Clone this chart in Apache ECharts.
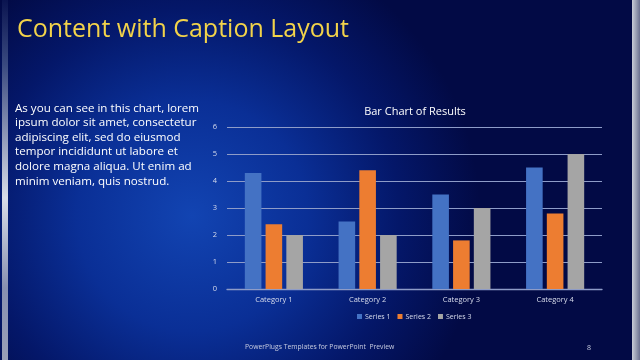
<!DOCTYPE html>
<html><head><meta charset="utf-8">
<script src="https://cdn.jsdelivr.net/npm/echarts@6/dist/echarts.min.js"></script>
<style>html,body{margin:0;padding:0;background:#03104f}#c{width:640px;height:360px}</style>
</head><body><div id="c"></div>
<script>
const categories = ['Category 1', 'Category 2', 'Category 3', 'Category 4'];
const series1 = [4.3, 2.5, 3.5, 4.5];
const series2 = [2.4, 4.4, 1.8, 2.8];
const series3 = [2, 2, 3, 5];
const seriesNames = ['Series 1', 'Series 2', 'Series 3'];
const yTicks = [0, 1, 2, 3, 4, 5, 6];
const captionLines = ['As you can see in this chart, lorem', 'ipsum dolor sit amet, consectetur', 'adipiscing elit, sed do eiusmod', 'tempor incididunt ut labore et', 'dolore magna aliqua. Ut enim ad', 'minim veniam, quis nostrud.'];

const chart = echarts.init(document.getElementById('c'));
const font = 'Open Sans, Lato, sans-serif';
chart.setOption({
  backgroundColor: {
    type: 'radial', x: 0.3, y: 0.6, r: 0.8,
    colorStops: [
      {offset: 0, color: '#1244b2'},
      {offset: 0.4, color: '#0a2f96'},
      {offset: 0.72, color: '#041769'},
      {offset: 1, color: '#020a45'}
    ]
  },
  graphic: [
    {type: 'rect', shape: {x: 2, y: 0, width: 6, height: 360}, silent: true,
      style: {fill: {type: 'linear', x: 0, y: 0, x2: 0, y2: 1, colorStops: [
        {offset: 0, color: '#0a1450'}, {offset: 0.18, color: '#3a4a80'}, {offset: 0.55, color: '#d8dce8'}, {offset: 0.8, color: '#8890b0'}, {offset: 1, color: '#9aa0b8'}]}}},
    {type: 'rect', shape: {x: 632, y: 0, width: 8, height: 360}, silent: true,
      style: {fill: {type: 'linear', x: 0, y: 0, x2: 1, y2: 0, colorStops: [
        {offset: 0, color: '#c8ccd8'}, {offset: 0.5, color: '#9aa0b4'}, {offset: 1, color: '#6a7090'}]}}},
    {type: 'text', left: 17, top: 17, silent: true,
      style: {text: 'Content with Caption Layout', fill: '#f2d34a', font: '25px ' + font}},
    {type: 'text', left: 15, top: 101, silent: true,
      style: {text: captionLines.join('\n'), fill: '#ffffff', font: '11.6px ' + font, lineHeight: 14.6}},
    {type: 'text', left: 245, top: 344, silent: true,
      style: {text: 'PowerPlugs Templates for PowerPoint  Preview', fill: '#c8cce0', font: '6.8px ' + font}},
    {type: 'text', left: 587, top: 344, silent: true,
      style: {text: '8', fill: '#c8cce0', font: '7px ' + font}}
  ],
  title: {
    text: 'Bar Chart of Results', left: 410, top: 101, textAlign: 'center',
    textStyle: {color: '#ffffff', fontSize: 11, fontWeight: 'normal', fontFamily: font}
  },
  legend: {
    data: seriesNames, left: 352, top: 308, itemWidth: 5, itemHeight: 5, itemGap: 7,
    icon: 'rect', textStyle: {color: '#d8dcec', fontSize: 7, fontFamily: font, padding: [0, 0, 0, -2]}
  },
  grid: {left: 227, right: 38, top: 127, bottom: 71},
  xAxis: {
    type: 'category', data: categories,
    axisLine: {lineStyle: {color: '#8e9cc8', width: 1.3}},
    axisTick: {show: false},
    axisLabel: {color: '#d8dcec', fontSize: 7.5, fontFamily: font, margin: 7}
  },
  yAxis: {
    type: 'value', min: 0, max: 6, interval: 1,
    axisLine: {show: false}, axisTick: {show: false},
    axisLabel: {color: '#d8dcec', fontSize: 7.5, fontFamily: font, margin: 10,
      formatter: v => yTicks.includes(v) ? String(v) : ''},
    splitLine: {lineStyle: {color: '#8e9cc8', width: 1}}
  },
  series: [
    {name: seriesNames[0], type: 'bar', data: series1, itemStyle: {color: '#4472c4'}, barGap: '25%', barCategoryGap: '38%'},
    {name: seriesNames[1], type: 'bar', data: series2, itemStyle: {color: '#ed7d31'}},
    {name: seriesNames[2], type: 'bar', data: series3, itemStyle: {color: '#a5a5a5'}}
  ]
});
</script></body></html>
